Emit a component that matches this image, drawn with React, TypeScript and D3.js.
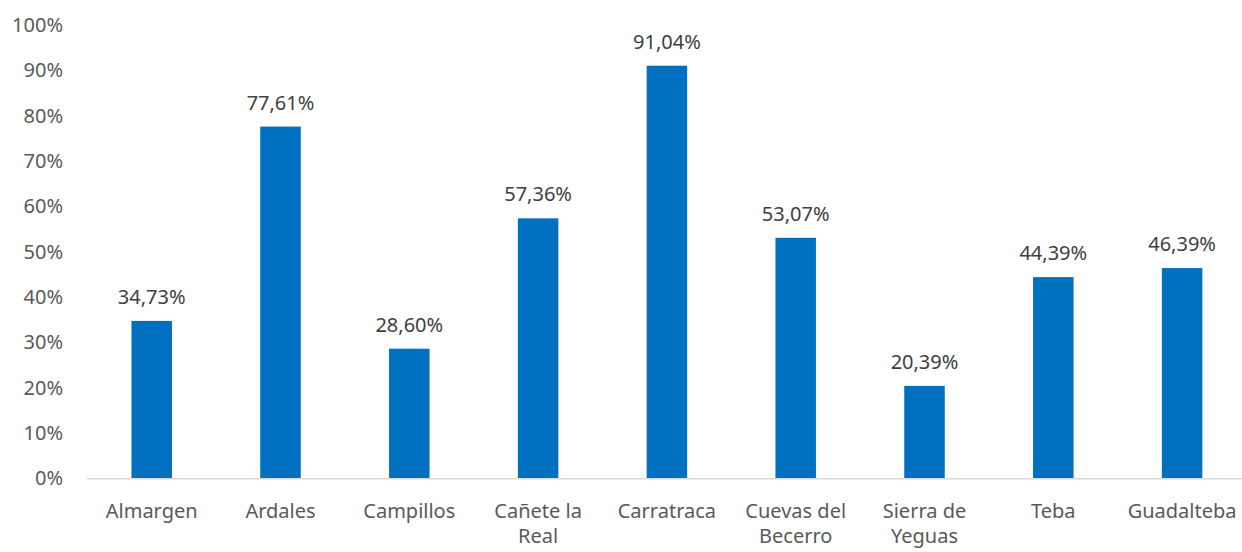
import React from "react";
import * as d3 from "d3";

const categories = [
  ["Almargen"],
  ["Ardales"],
  ["Campillos"],
  ["Cañete la", "Real"],
  ["Carratraca"],
  ["Cuevas del", "Becerro"],
  ["Sierra de", "Yeguas"],
  ["Teba"],
  ["Guadalteba"],
];
const values = [34.73, 77.61, 28.6, 57.36, 91.04, 53.07, 20.39, 44.39, 46.39];
const yTicks = [0, 10, 20, 30, 40, 50, 60, 70, 80, 90, 100];

const W = 1242;
const H = 552;
const font = "'Noto Sans', sans-serif";

export default function App() {
  const names = categories.map((c) => c.join(" "));
  const x = d3.scaleBand<string>().domain(names).range([87.3, 1246.5]).paddingInner(0).paddingOuter(0);
  const y = d3.scaleLinear().domain([0, 100]).range([478.3, 25.1]);
  const barW = 40.5;
  const fmt = (v: number) => v.toFixed(2).replace(".", ",") + "%";

  return (
    <svg width={W} height={H} style={{ position: "absolute", left: 0, top: 0, background: "#fff" }}>
      {yTicks.map((t) => (
        <text key={t} x={63} y={y(t)} dy="0.35em" textAnchor="end" fontFamily={font} fontSize={20} fill="#595959">
          {t}%
        </text>
      ))}
      {values.map((v, i) => {
        const cx = x(names[i])! + x.bandwidth() / 2;
        return (
          <g key={i}>
            <rect x={cx - barW / 2} y={y(v)} width={barW} height={y(0) - y(v)} fill="#0070C0" />
            <text x={cx} y={y(v) - 17} textAnchor="middle" fontFamily={font} fontSize={20} fill="#404040">
              {fmt(v)}
            </text>
          </g>
        );
      })}
      <line x1={87.3} x2={W} y1={y(0) + 0.5} y2={y(0) + 0.5} stroke="#d9d9d9" strokeWidth={1.5} />
      {categories.map((c, i) => {
        const cx = x(names[i])! + x.bandwidth() / 2;
        return (
          <text key={i} textAnchor="middle" fontFamily={font} fontSize={20} fill="#595959">
            {c.map((line, j) => (
              <tspan key={j} x={cx} y={518 + j * 25}>
                {line}
              </tspan>
            ))}
          </text>
        );
      })}
    </svg>
  );
}
